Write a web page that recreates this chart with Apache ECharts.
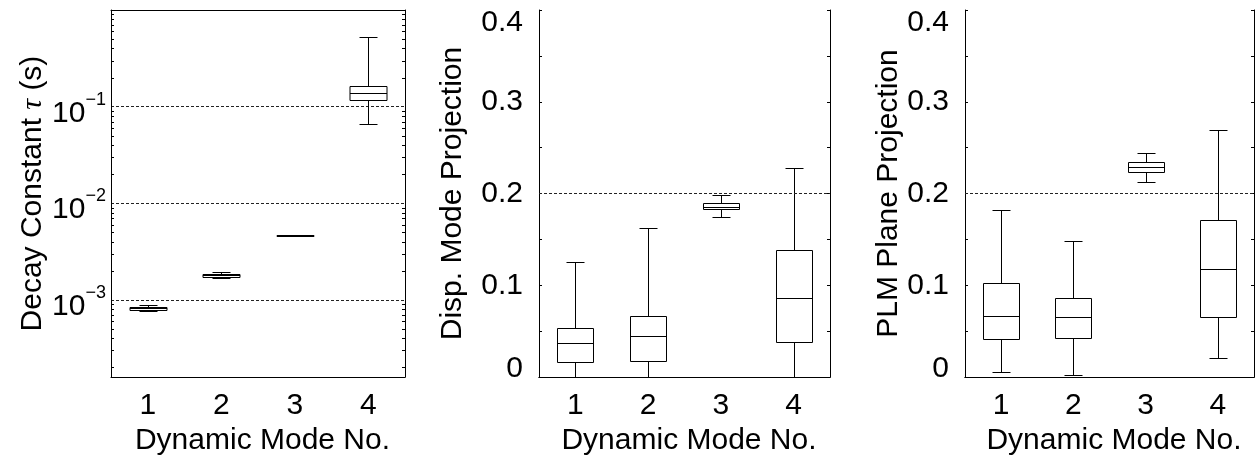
<!DOCTYPE html>
<html><head><meta charset="utf-8">
<script src="https://cdn.jsdelivr.net/npm/echarts@6/dist/echarts.min.js"></script>
<style>html,body{margin:0;padding:0;background:#fff;overflow:hidden}#c{width:1255px;height:461px}</style>
</head><body><div id="c"></div>
<script>
// ---------- data ----------
const categories = ['1', '2', '3', '4'];
// each row: [lower whisker, Q1, median, Q3, upper whisker]
const decayConstant = [
  [7.66e-4, 7.87e-4, 8.18e-4, 8.42e-4, 8.93e-4],
  [1.686e-3, 1.738e-3, 1.79e-3, 1.85e-3, 1.94e-3],
  [4.60e-3, 4.62e-3, 4.64e-3, 4.66e-3, 4.68e-3],
  [0.0667, 0.1166, 0.1396, 0.163, 0.524]
];
const dispModeProjection = [
  [0.0, 0.0163, 0.0376, 0.0539, 0.1259],
  [0.0, 0.0170, 0.0443, 0.0667, 0.1630],
  [0.1748, 0.1833, 0.1855, 0.1900, 0.1982],
  [0.0, 0.0386, 0.0865, 0.1390, 0.2277]
];
const plmPlaneProjection = [
  [0.0057, 0.0418, 0.0670, 0.1025, 0.1816],
  [0.0020, 0.0429, 0.0652, 0.0858, 0.1479],
  [0.2128, 0.2234, 0.2294, 0.2340, 0.2443],
  [0.0213, 0.0652, 0.1180, 0.1716, 0.2695]
];
const logMinorTicks = [
  2e-4, 3e-4, 4e-4, 5e-4, 6e-4, 7e-4, 8e-4, 9e-4,
  2e-3, 3e-3, 4e-3, 5e-3, 6e-3, 7e-3, 8e-3, 9e-3,
  2e-2, 3e-2, 4e-2, 5e-2, 6e-2, 7e-2, 8e-2, 9e-2,
  2e-1, 3e-1, 4e-1, 5e-1, 6e-1, 7e-1, 8e-1, 9e-1
];
const logRange = [Math.pow(10, -3.8), 1];
const linRange = [0, 0.4];
const linInterval = 0.1;
const threshold = 0.2;
const xName = 'Dynamic Mode No.';
const yNames = ['Decay Constant {t|τ} (s)', 'Disp. Mode Projection', 'PLM Plane Projection'];

// ---------- chart ----------
const FONT = '"Liberation Sans", Arial, Helvetica, sans-serif';
const BLACK = '#000';
const chart = echarts.init(document.getElementById('c'), null, {renderer: 'canvas'});

function boxItem(params, api) {
  const x = api.value(0);
  const lo = api.coord([x, api.value(1)]);
  const q1 = api.coord([x, api.value(2)]);
  const md = api.coord([x, api.value(3)]);
  const q3 = api.coord([x, api.value(4)]);
  const hi = api.coord([x, api.value(5)]);
  const band = api.size([1, 1], [x, api.value(3)])[0];
  const bw = Math.round(band * 0.5), cw = Math.round(band * 0.25);
  const cx = Math.round(md[0]) + 0.5;
  const r = v => Math.round(v) + 0.5;
  const st = {stroke: BLACK, lineWidth: 1, fill: null};
  return {
    type: 'group',
    children: [
      {type: 'line', shape: {x1: cx, y1: r(hi[1]), x2: cx, y2: r(q3[1])}, style: st},
      {type: 'line', shape: {x1: cx, y1: r(q1[1]), x2: cx, y2: r(lo[1])}, style: st},
      {type: 'line', shape: {x1: cx - cw / 2, y1: r(hi[1]), x2: cx + cw / 2, y2: r(hi[1])}, style: st},
      {type: 'line', shape: {x1: cx - cw / 2, y1: r(lo[1]), x2: cx + cw / 2, y2: r(lo[1])}, style: st},
      {type: 'rect', shape: {x: cx - bw / 2, y: r(q3[1]), width: bw, height: Math.max(r(q1[1]) - r(q3[1]), 0.01)}, style: st},
      {type: 'line', shape: {x1: cx - bw / 2, y1: r(md[1]), x2: cx + bw / 2, y2: r(md[1])}, style: st}
    ]
  };
}

function minorTickItem(params, api) {
  const y = Math.round(api.coord([0, api.value(1)])[1]) + 0.5;
  const cs = params.coordSys;
  const st = {stroke: BLACK, lineWidth: 1};
  return {
    type: 'group',
    children: [
      {type: 'line', shape: {x1: cs.x, y1: y, x2: cs.x + 3, y2: y}, style: st},
      {type: 'line', shape: {x1: cs.x + cs.width - 3, y1: y, x2: cs.x + cs.width, y2: y}, style: st}
    ]
  };
}

const grids = [
  {left: 111, top: 10, width: 294, height: 375},
  {left: 539, top: 10, width: 291, height: 375},
  {left: 965, top: 10, width: 289, height: 375}
];

const xAxes = [], yAxes = [];
grids.forEach((g, i) => {
  xAxes.push({
    type: 'category', gridIndex: i, data: categories, boundaryGap: true, position: 'bottom',
    axisLine: {lineStyle: {color: BLACK, width: 1}},
    axisTick: {show: false},
    axisLabel: {color: BLACK, fontSize: 30, fontFamily: FONT, margin: 14},
    name: xName, nameLocation: 'middle', nameGap: 44,
    nameTextStyle: {color: BLACK, fontSize: 30, fontFamily: FONT, padding: [0, 0, 0, 9]}
  });
  xAxes.push({
    type: 'category', gridIndex: i, data: categories, boundaryGap: true, position: 'top',
    axisLine: {lineStyle: {color: BLACK, width: 1}},
    axisTick: {show: false}, axisLabel: {show: false}
  });
});

// log panel
yAxes.push({
  type: 'log', gridIndex: 0, logBase: 10, min: logRange[0], max: logRange[1], position: 'left',
  axisLine: {show: true, lineStyle: {color: BLACK, width: 1}},
  axisTick: {show: false},
  splitLine: {show: true, lineStyle: {color: '#222', width: 1, type: [3, 2]}},
  axisLabel: {
    margin: 5, color: BLACK, fontFamily: FONT,
    formatter: function (v) {
      const l = Math.log10(v), e = Math.round(l);
      if (Math.abs(l - e) > 1e-6 || e === 0) return '';
      return '{b|10}{s|\u2212' + (-e) + '}';
    },
    rich: {
      b: {fontSize: 30, fontFamily: FONT, color: BLACK, lineHeight: 44, verticalAlign: 'bottom'},
      s: {fontSize: 18, fontFamily: FONT, color: BLACK, lineHeight: 18, verticalAlign: 'top', padding: [6, 0, 0, 0]}
    }
  },
  name: yNames[0], nameLocation: 'middle', nameGap: 63,
  nameTextStyle: {color: BLACK, fontSize: 30, fontFamily: FONT,
    rich: {t: {fontSize: 30, fontStyle: 'italic', fontFamily: '"Liberation Serif", "DejaVu Serif", serif', color: BLACK}}}
});
yAxes.push({
  type: 'log', gridIndex: 0, logBase: 10, min: logRange[0], max: logRange[1], position: 'right',
  axisLine: {show: true, lineStyle: {color: BLACK, width: 1}},
  axisTick: {show: false}, splitLine: {show: false}, axisLabel: {show: false}
});

// linear panels
[1, 2].forEach((gi) => {
  const common = {
    type: 'value', gridIndex: gi, min: linRange[0], max: linRange[1], interval: linInterval,
    axisLine: {show: true, lineStyle: {color: BLACK, width: 1}},
    axisTick: {show: true, inside: true, length: 3, lineStyle: {color: BLACK}},
    minorTick: {show: true, splitNumber: 2, length: 3, lineStyle: {color: BLACK}},
    splitLine: {show: false}
  };
  yAxes.push(Object.assign({}, common, {
    position: 'left',
    axisLabel: {
      margin: 16, color: BLACK, fontFamily: FONT, fontSize: 30,
      formatter: function (v) {
        const s = v === 0 ? '0' : v.toFixed(1);
        if (Math.abs(v - linRange[1]) < 1e-9) return '{hi|' + s + '}';
        if (Math.abs(v - linRange[0]) < 1e-9) return '{lo|' + s + '}';
        return '{n|' + s + '}';
      },
      rich: {
        n: {fontSize: 30, fontFamily: FONT, color: BLACK},
        hi: {fontSize: 30, fontFamily: FONT, color: BLACK, padding: [25, 0, 0, 0]},
        lo: {fontSize: 30, fontFamily: FONT, color: BLACK, padding: [0, 0, 16, 0]}
      }
    },
    name: yNames[gi], nameLocation: 'middle', nameGap: gi === 1 ? 71 : 50,
    nameTextStyle: {color: BLACK, fontSize: 30, fontFamily: FONT}
  }));
  yAxes.push(Object.assign({}, common, {position: 'right', axisLabel: {show: false}}));
});

const panels = [decayConstant, dispModeProjection, plmPlaneProjection];
const series = panels.map((rows, i) => {
  const s = {
    type: 'custom', xAxisIndex: i * 2, yAxisIndex: i * 2,
    renderItem: boxItem, encode: {x: 0, y: [1, 2, 3, 4, 5]},
    data: rows.map((r, j) => [j].concat(r)), silent: true, animation: false
  };
  if (i > 0) {
    s.markLine = {
      silent: true, symbol: 'none', animation: false, label: {show: false},
      lineStyle: {color: '#222', width: 1, type: [3, 2]},
      data: [{yAxis: threshold}]
    };
  }
  return s;
});
series.push({
  type: 'custom', xAxisIndex: 0, yAxisIndex: 0, renderItem: minorTickItem,
  encode: {x: 0, y: 1}, data: logMinorTicks.map(v => [0, v]), silent: true, animation: false
});

chart.setOption({
  animation: false,
  backgroundColor: '#fff',
  grid: grids,
  xAxis: xAxes,
  yAxis: yAxes,
  series: series
});
</script>
</body></html>
